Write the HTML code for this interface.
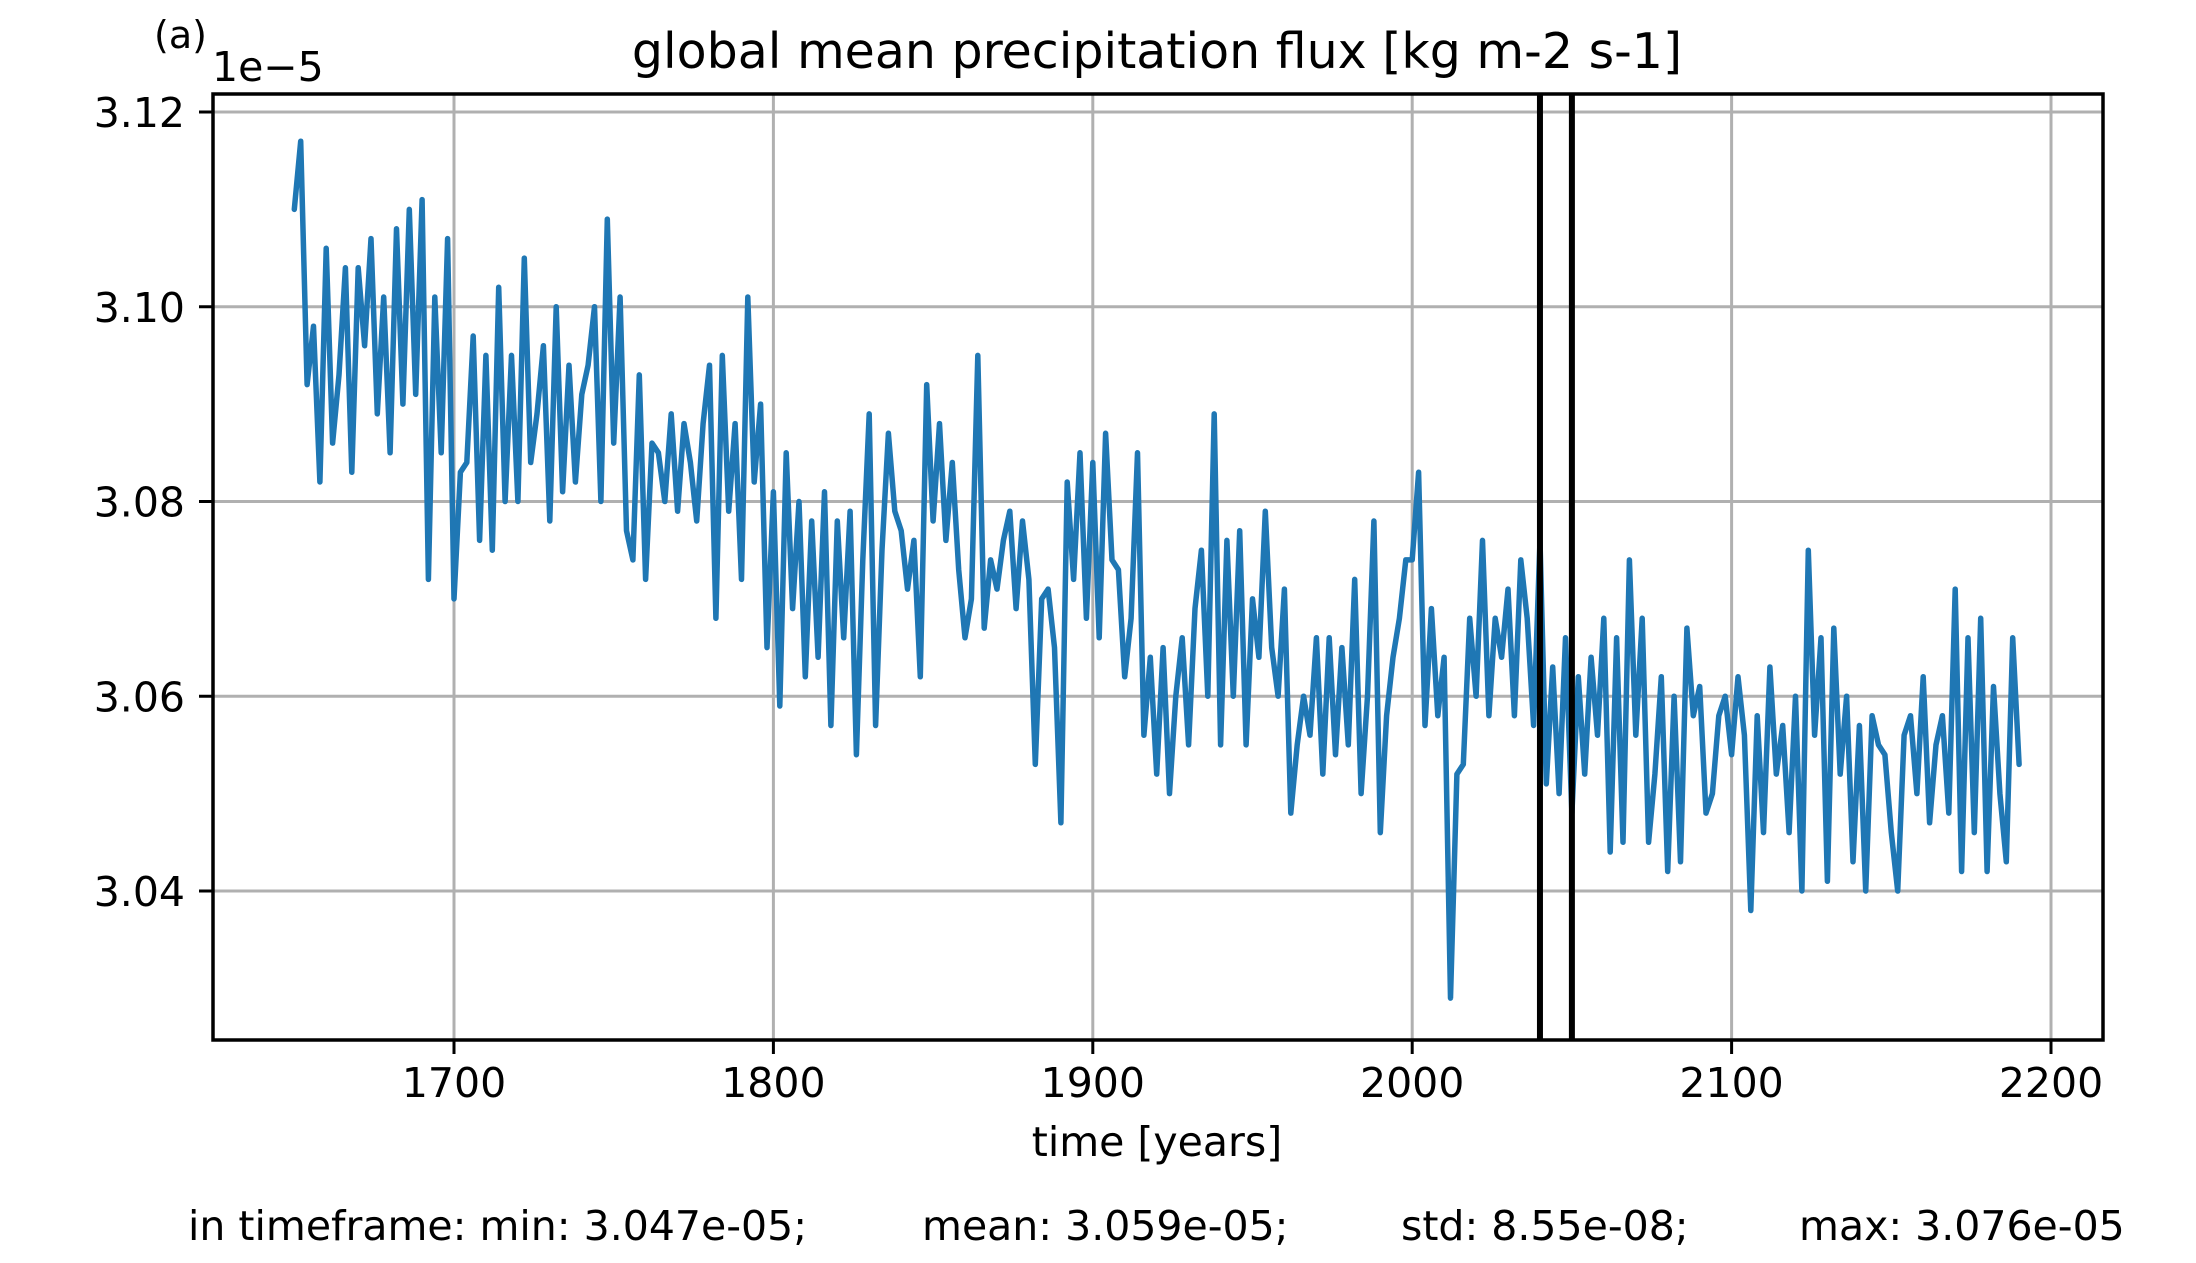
<!DOCTYPE html>
<html><head><meta charset="utf-8"><style>
html,body{margin:0;padding:0;background:#fff}
svg{display:block;font-family:"DejaVu Sans","Liberation Sans",sans-serif}
</style></head><body>
<svg id="chart" width="2196" height="1263" viewBox="0 0 2196 1263" xmlns="http://www.w3.org/2000/svg">
<rect width="2196" height="1263" fill="#fff"/>
<g id="grid"></g>
<g id="series"></g>
<g id="axes"></g>
<text x="154" y="48" font-size="38">(a)</text>
<text x="212" y="81" font-size="41">1e−5</text>
<text x="1157" y="68" font-size="49" text-anchor="middle">global mean precipitation flux [kg m-2 s-1]</text>
<text x="1157" y="1156" font-size="41" text-anchor="middle">time [years]</text>
<g font-size="41">
<text x="188" y="1240">in timeframe: min: 3.047e-05;</text>
<text x="922" y="1240">mean: 3.059e-05;</text>
<text x="1401" y="1240">std: 8.55e-08;</text>
<text x="1799" y="1240">max: 3.076e-05</text>
</g>
</svg>
<script>
const startYear = 1650;
const yearStep = 2;
const values = [3.110,3.117,3.092,3.098,3.082,3.106,3.086,3.093,3.104,3.083,3.104,3.096,3.107,3.089,3.101,3.085,3.108,3.090,3.110,3.091,3.111,3.072,3.101,3.085,3.107,
3.070,3.083,3.084,3.097,3.076,3.095,3.075,3.102,3.080,3.095,3.080,3.105,3.084,3.089,3.096,3.078,3.100,3.081,3.094,3.082,3.091,3.094,3.100,3.080,3.109,3.086,3.101,3.077,3.074,3.093,3.072,3.086,3.085,3.080,3.089,3.079,3.088,3.084,3.078,3.088,3.094,3.068,3.095,3.079,3.088,3.072,3.101,3.082,3.090,3.065,
3.081,3.059,3.085,3.069,3.080,3.062,3.078,3.064,3.081,3.057,3.078,3.066,3.079,3.054,3.074,3.089,3.057,3.075,3.087,3.079,3.077,3.071,3.076,3.062,3.092,3.078,3.088,3.076,3.084,3.073,3.066,3.070,3.095,3.067,3.074,3.071,3.076,3.079,3.069,3.078,3.072,3.053,3.070,3.071,3.065,3.047,3.082,3.072,3.085,3.068,
3.084,3.066,3.087,3.074,3.073,3.062,3.068,3.085,3.056,3.064,3.052,3.065,3.050,3.060,3.066,3.055,3.069,3.075,3.060,3.089,3.055,3.076,3.060,3.077,3.055,3.070,3.064,3.079,3.065,3.060,3.071,3.048,3.055,3.060,3.056,3.066,3.052,3.066,3.054,3.065,3.055,3.072,3.050,3.060,3.078,3.046,3.058,3.064,3.068,3.074,
3.074,3.083,3.057,3.069,3.058,3.064,3.029,3.052,3.053,3.068,3.060,3.076,3.058,3.068,3.064,3.071,3.058,3.074,3.068,3.057,3.076,3.051,3.063,3.050,3.066,3.048,3.062,3.052,3.064,3.056,3.068,3.044,3.066,3.045,3.074,3.056,3.068,3.045,3.052,3.062,3.042,3.060,3.043,3.067,3.058,3.061,3.048,3.050,3.058,3.060,
3.054,3.062,3.056,3.038,3.058,3.046,3.063,3.052,3.057,3.046,3.060,3.040,3.075,3.056,3.066,3.041,3.067,3.052,3.060,3.043,3.057,3.040,3.058,3.055,3.054,3.046,3.040,3.056,3.058,3.050,3.062,3.047,3.055,3.058,3.048,3.071,3.042,3.066,3.046,3.068,3.042,3.061,3.050,3.043,3.066,3.053];
const xTicks = [1700,1800,1900,2000,2100,2200];
const yTicks = [3.04,3.06,3.08,3.10,3.12];
const yTickLabels = ["3.04","3.06","3.08","3.10","3.12"];
const xTickLabels = ["1700","1800","1900","2000","2100","2200"];
const markerYears = [2040,2050];

const L=213,R=2103,T=94,B=1040;
const X=v=>454+(v-1700)*(2051-454)/500;
const Y=v=>891-(v-3.04)*(891-112)/0.08;
const NS="http://www.w3.org/2000/svg";
function mk(tag,attrs,parent){const e=document.createElementNS(NS,tag);for(const k in attrs)e.setAttribute(k,attrs[k]);parent.appendChild(e);return e;}
const grid=document.getElementById('grid'),series=document.getElementById('series'),axes=document.getElementById('axes');
xTicks.forEach((t,i)=>{
  const g=mk('line',{x1:X(t),x2:X(t),y1:T,y2:B,stroke:'#b0b0b0','stroke-width':3},grid);
  
  
  const tk=mk('line',{x1:X(t),x2:X(t),y1:B,y2:B+14,stroke:'#000','stroke-width':3},axes);
  
  
  const lb=mk('text',{x:X(t),y:1097,'font-size':41,'text-anchor':'middle'},axes);
  lb.textContent=xTickLabels[i];
  
  
});
yTicks.forEach((t,i)=>{
  const g=mk('line',{x1:L,x2:R,y1:Y(t),y2:Y(t),stroke:'#b0b0b0','stroke-width':3},grid);
  
  
  const tk=mk('line',{x1:L-14,x2:L,y1:Y(t),y2:Y(t),stroke:'#000','stroke-width':3},axes);
  
  
  const lb=mk('text',{x:L-28,y:Y(t)+15,'font-size':41,'text-anchor':'end'},axes);
  lb.textContent=yTickLabels[i];
  
  
});
const pts=values.map((v,i)=>X(startYear+i*yearStep).toFixed(1)+','+Y(v).toFixed(1)).join(' ');
const pl=mk('polyline',{points:pts,fill:'none',stroke:'#1f77b4','stroke-width':5.5,'stroke-linejoin':'round','stroke-linecap':'round'},series);


markerYears.forEach(m=>{
  const v=mk('line',{x1:X(m),x2:X(m),y1:T,y2:B,stroke:'#000','stroke-width':6},series);
  
  
});
const fr=mk('rect',{x:L,y:T,width:R-L,height:B-T,fill:'none',stroke:'#000','stroke-width':3.5},axes);


</script>
</body></html>
